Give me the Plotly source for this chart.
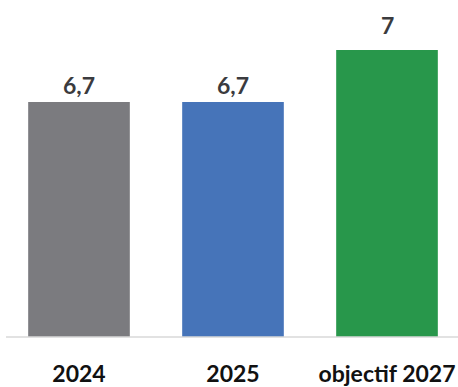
import plotly.graph_objects as go

categories = ["2024", "2025", "objectif 2027"]
values = [6.7, 6.7, 7]
value_labels = ["6,7", "6,7", "7"]
bar_colors = ["#7b7b7f", "#4674b9", "#28974b"]

# vertical offset (px) of each value label above its bar
label_offsets = [16.5, 16.5, 25]

fig = go.Figure(
    go.Bar(
        x=categories,
        y=values,
        marker=dict(color=bar_colors, line=dict(width=0)),
        width=0.66,
        hoverinfo="x+y",
    )
)

# category axes read numeric-looking strings as indices, so place labels by index
for i, (val, txt, dy) in enumerate(zip(values, value_labels, label_offsets)):
    fig.add_annotation(
        x=i,
        y=val,
        text=txt,
        showarrow=False,
        yanchor="middle",
        yshift=dy,
        font=dict(family="Lato", size=23, color="#3b3b3e", weight="bold"),
    )

fig.update_layout(
    width=458,
    height=387,
    margin=dict(l=0, r=0, t=0, b=43),
    paper_bgcolor="white",
    plot_bgcolor="white",
    showlegend=False,
    xaxis=dict(
        type="category",
        range=[-0.513, 2.461],
        showgrid=False,
        showline=False,
        zeroline=False,
        ticks="",
        ticklabelstandoff=21,
        tickfont=dict(family="Lato", size=23, color="#111111", weight="bold"),
    ),
    yaxis=dict(
        range=[5.342, 7.289],
        visible=False,
        showgrid=False,
        zeroline=False,
    ),
    shapes=[
        dict(
            type="line",
            xref="paper",
            yref="paper",
            x0=6 / 458,
            x1=1,
            y0=0,
            y1=0,
            line=dict(color="#d9d9d9", width=1.5),
        )
    ],
)

fig.write_html("out.html")
